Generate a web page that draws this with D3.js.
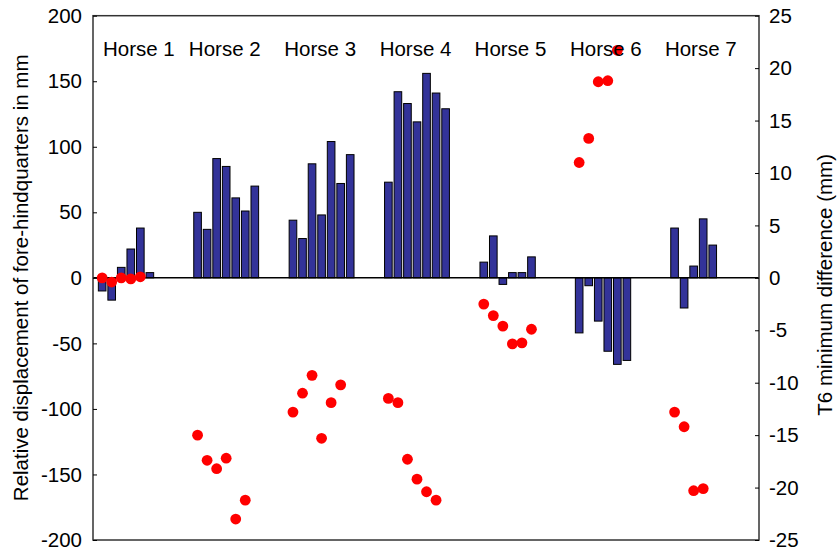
<!DOCTYPE html>
<html>
<head>
<meta charset="utf-8">
<script src="https://cdn.jsdelivr.net/npm/d3@7"></script>
<style>
  body { margin: 0; background: #fff; }
  svg text { font-family: "Liberation Sans", Arial, sans-serif; fill: #000; }
</style>
</head>
<body>
<svg id="chart" width="838" height="555"></svg>
<script>
// data
const horses = ["Horse 1", "Horse 2", "Horse 3", "Horse 4", "Horse 5", "Horse 6", "Horse 7"];

// relative displacement of fore-hindquarters (mm), bars, left axis
const displacement = [
  [-10, -17, 8, 22, 38, 4],
  [50, 37, 91, 85, 61, 51, 70],
  [44, 30, 87, 48, 104, 72, 94],
  [73, 142, 133, 119, 156, 141, 129],
  [12, 32, -5, 4, 4, 16],
  [-42, -6, -33, -56, -66, -63],
  [38, -23, 9, 45, 25]
];

// T6 minimum difference (mm), dots, right axis
const t6diff = [
  [0, -0.4, 0, -0.1, 0.1],
  [-15.0, -17.4, -18.2, -17.2, -23.0, -21.2],
  [-12.8, -11.0, -9.3, -15.3, -11.9, -10.2],
  [-11.5, -11.9, -17.3, -19.2, -20.4, -21.2],
  [-2.5, -3.6, -4.6, -6.3, -6.2, -4.9],
  [11.0, 13.3, 18.7, 18.8, 21.7],
  [-12.8, -14.2, -20.3, -20.1]
];

const leftTicks = [-200, -150, -100, -50, 0, 50, 100, 150, 200];
const rightTicks = [-25, -20, -15, -10, -5, 0, 5, 10, 15, 20, 25];

// layout
const svg = d3.select("#chart");
const margin = { left: 93, right: 79, top: 15.7, bottom: 15 };
const W = 838, H = 555;
const slotsPerHorse = 10;
const labelShift = [3.85, 2.85, 2.85, 2.85, 2.8, 2.8, 2.75];
const fontSize = "20.5px";

const x = d3.scaleLinear().domain([-0.96, 68.85]).range([margin.left, W - margin.right]);
const yL = d3.scaleLinear().domain([-200, 200]).range([H - margin.bottom, margin.top]);
const yR = d3.scaleLinear().domain([-25, 25]).range([H - margin.bottom, margin.top]);
const barW = (x(1) - x(0)) * 0.8;

const bars = displacement.flatMap((vals, h) => vals.map((v, i) => ({ slot: h * slotsPerHorse + i, v })));
const dots = t6diff.flatMap((vals, h) => vals.map((v, i) => ({ slot: h * slotsPerHorse + i, v })));

svg.append("g").selectAll("rect")
  .data(bars)
  .enter().append("rect")
  .attr("x", d => x(d.slot) - barW / 2)
  .attr("width", barW)
  .attr("y", d => yL(Math.max(0, d.v)))
  .attr("height", d => Math.abs(yL(d.v) - yL(0)))
  .attr("fill", "#333399")
  .attr("stroke", "#000")
  .attr("stroke-width", 1);

// zero line
svg.append("line")
  .attr("x1", x.range()[0]).attr("x2", x.range()[1])
  .attr("y1", yL(0)).attr("y2", yL(0))
  .attr("stroke", "#000").attr("stroke-width", 1.5);

svg.append("g").selectAll("circle")
  .data(dots)
  .enter().append("circle")
  .attr("cx", d => x(d.slot))
  .attr("cy", d => yR(d.v))
  .attr("r", 5.4)
  .attr("fill", "#ff0000");

// frame
svg.append("rect")
  .attr("x", x.range()[0]).attr("y", margin.top)
  .attr("width", x.range()[1] - x.range()[0])
  .attr("height", yL.range()[0] - margin.top)
  .attr("fill", "none").attr("stroke", "#333").attr("stroke-width", 1.5);

// axes, ticks point inward
const axL = svg.append("g")
  .attr("transform", `translate(${x.range()[0]},0)`)
  .call(d3.axisRight(yL).tickValues(leftTicks).tickSize(4).tickFormat(""));
axL.select(".domain").remove();

const axR = svg.append("g")
  .attr("transform", `translate(${x.range()[1]},0)`)
  .call(d3.axisLeft(yR).tickValues(rightTicks).tickSize(4).tickFormat(""));
axR.select(".domain").remove();

svg.append("g").selectAll("text")
  .data(leftTicks)
  .enter().append("text")
  .attr("x", x.range()[0] - 11)
  .attr("y", d => yL(d))
  .attr("dy", "0.35em")
  .attr("text-anchor", "end")
  .style("font-size", fontSize)
  .text(d => d);

svg.append("g").selectAll("text")
  .data(rightTicks)
  .enter().append("text")
  .attr("x", x.range()[1] + 10)
  .attr("y", d => yR(d))
  .attr("dy", "0.35em")
  .attr("text-anchor", "start")
  .style("font-size", fontSize)
  .text(d => d);

// horse labels
svg.append("g").selectAll("text")
  .data(horses)
  .enter().append("text")
  .attr("x", (d, i) => x(i * slotsPerHorse + labelShift[i]))
  .attr("y", 56)
  .attr("text-anchor", "middle")
  .style("font-size", fontSize)
  .text(d => d);

// axis titles
svg.append("text")
  .attr("transform", `translate(28,${yL(0)}) rotate(-90)`)
  .attr("text-anchor", "middle")
  .style("font-size", fontSize)
  .text("Relative displacement of fore-hindquarters in mm");

svg.append("text")
  .attr("transform", `translate(832,${yL(0) + 7}) rotate(-90)`)
  .attr("text-anchor", "middle")
  .style("font-size", fontSize)
  .text("T6 minimum difference (mm)");
</script>
</body>
</html>
